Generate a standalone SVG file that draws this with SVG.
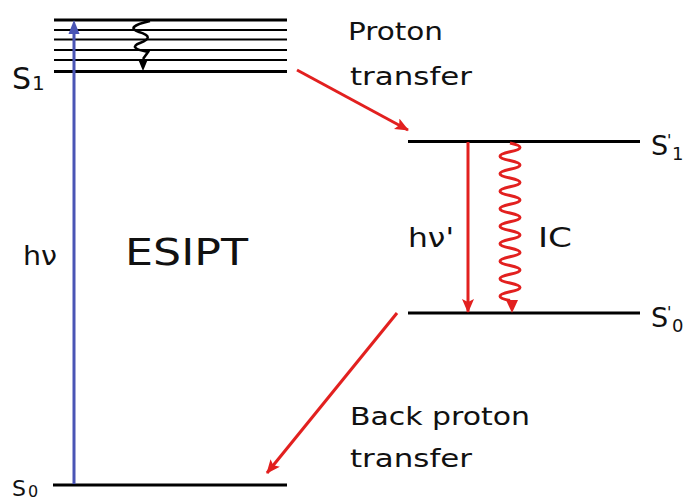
<svg xmlns="http://www.w3.org/2000/svg" width="690" height="503" viewBox="0 0 690 503">
<defs>
<style>
.lvl{stroke:#000;stroke-width:3;fill:none}
.sub{stroke:#000;stroke-width:2;fill:none}
.t{font-family:"DejaVu Sans","Liberation Sans",sans-serif;fill:#111}
.red{stroke:#e2201f;stroke-width:3;fill:none}
</style>
<marker id="ar" markerUnits="userSpaceOnUse" markerWidth="14" markerHeight="12" refX="13" refY="6" orient="auto">
<path d="M0,0 L14,6 L0,12 L3,6 z" fill="#e2201f"/>
</marker>
</defs>
<rect width="690" height="503" fill="#fff"/>
<g id="S1">
<line class="lvl" x1="54" y1="20" x2="287" y2="20"/>
<line class="sub" x1="54" y1="30" x2="287" y2="30"/>
<line class="sub" x1="54" y1="39.5" x2="287" y2="39.5"/>
<line class="sub" x1="54" y1="50" x2="287" y2="50"/>
<line class="sub" x1="54" y1="60" x2="287" y2="60"/>
<line class="lvl" x1="54" y1="71.5" x2="287" y2="71.5" stroke-width="3.5"/>
<text class="t" x="12" y="89" font-size="30">S</text>
<text class="t" x="32" y="90" font-size="20">1</text>
</g>
<g id="S0">
<line class="lvl" x1="53" y1="485" x2="287" y2="485" stroke-width="3.5"/>
<text class="t" x="12" y="496" font-size="22">S</text>
<text class="t" x="28" y="497" font-size="16">0</text>
</g>
<g id="S1p">
<line class="lvl" x1="408" y1="141.5" x2="640" y2="141.5"/>
<text class="t" x="651" y="155" font-size="27">S</text>
<text class="t" x="667" y="146" font-size="16">'</text>
<text class="t" x="672" y="160" font-size="18">1</text>
</g>
<g id="S0p">
<line class="lvl" x1="408" y1="313" x2="640" y2="313"/>
<text class="t" x="651" y="327" font-size="27">S</text>
<text class="t" x="667" y="318" font-size="16">'</text>
<text class="t" x="672" y="332" font-size="18">0</text>
</g>
<g id="labels">
<text class="t" x="125" y="265" font-size="38" textLength="123" lengthAdjust="spacingAndGlyphs">ESIPT</text>
<text class="t" x="23" y="265" font-size="26" textLength="34" lengthAdjust="spacingAndGlyphs">hν</text>
<text class="t" x="408" y="247" font-size="26" textLength="46" lengthAdjust="spacingAndGlyphs">hν'</text>
<text class="t" x="538" y="247" font-size="26" textLength="34" lengthAdjust="spacingAndGlyphs">IC</text>
<text class="t" x="348" y="40" font-size="24" textLength="95" lengthAdjust="spacingAndGlyphs">Proton</text>
<text class="t" x="350" y="85" font-size="24" textLength="122" lengthAdjust="spacingAndGlyphs">transfer</text>
<text class="t" x="350" y="425" font-size="24" textLength="180" lengthAdjust="spacingAndGlyphs">Back proton</text>
<text class="t" x="350" y="467" font-size="24" textLength="122" lengthAdjust="spacingAndGlyphs">transfer</text>
</g>
<g id="connectors">
<line x1="74" y1="484" x2="74" y2="30" stroke="#4a55b5" stroke-width="3"/>
<path d="M74,20 L79.5,34 L68.5,34 z" fill="#4a55b5"/>
<path d="M150,21 Q124,27 139,32 Q156,37 140,43 Q127,48 148,52 L143,59" stroke="#000" stroke-width="2.5" fill="none"/>
<path d="M143,71 L138,59 L148,59 z" fill="#000"/>
<line class="red" x1="297" y1="70" x2="408" y2="130" marker-end="url(#ar)"/>
<line class="red" x1="397" y1="313" x2="267" y2="473" marker-end="url(#ar)"/>
<line class="red" x1="468" y1="142" x2="468" y2="312" marker-end="url(#ar)"/>
<path class="red" d="M510,143 q20,4.375 0,8.75 t0,8.75 t0,8.75 t0,8.75 t0,8.75 t0,8.75 t0,8.75 t0,8.75 t0,8.75 t0,8.75 t0,8.75 t0,8.75 t0,8.75 t0,8.75 t0,8.75 t0,8.75 t0,8.75 t0,8.75"/>
<path d="M512,313 L506,300 L518,300 z" fill="#e2201f"/>
</g>
</svg>
